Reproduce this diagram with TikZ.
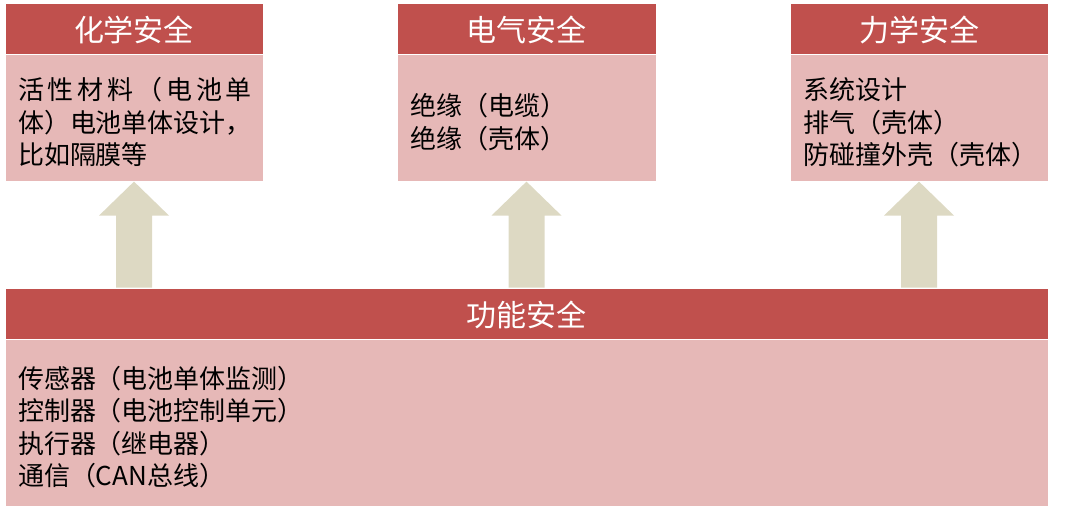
\documentclass[tikz,border=0pt]{standalone}
\usepackage{fontspec}
\setmainfont{Noto Sans CJK SC}
\usetikzlibrary{positioning,calc}
\definecolor{hdr}{HTML}{C0504D}
\definecolor{bdy}{HTML}{E6B8B7}
\definecolor{arw}{HTML}{DDD9C3}

\begin{document}
\begin{tikzpicture}[x=1pt, y=1pt,
    head/.style={fill=hdr, draw=white, line width=0.8pt, minimum height=51pt,
      inner sep=0pt, text=white, text height=30pt, text depth=4pt,
      font=\fontsize{30}{32}\selectfont},
    body/.style={fill=bdy, draw=white, line width=0.8pt, align=left,
      inner xsep=13pt, inner ysep=0pt, font=\fontsize{26}{32.5}\selectfont,
      execute at begin node=\rule{0pt}{30pt}},
    up/.style={fill=arw},
  ]
  \useasboundingbox (0,0) rectangle (1080,507);

  % top boxes
  \node[head, minimum width=258pt] (chemh) at (134,478.5) {化学安全};
  \node[body, below=0pt of chemh, minimum width=258pt, minimum height=127pt,
    text width=232pt] (chemb)
    {\makebox[9em][s]{活\hfill 性\hfill 材\hfill 料\hfill （\hfill 电\hfill 池\hfill 单}\\
     体）电池单体设计，\\ 比如隔膜等};

  \node[head, minimum width=259pt] (elech) at (526.5,478.5) {电气安全};
  \node[body, below=0pt of elech, minimum width=259pt, minimum height=127pt,
    text width=233pt] (elecb) {绝缘（电缆）\\ 绝缘（壳体）};

  \node[head, minimum width=258pt] (mechh) at (919,478.5) {力学安全};
  \node[body, below=0pt of mechh, minimum width=258pt, minimum height=127pt,
    text width=232pt] (mechb) {系统设计\\ 排气（壳体）\\ 防碰撞外壳（壳体）};

  % bottom box
  \node[head, minimum width=1043pt] (funch) at (526.5,193.5) {功能安全};
  \node[body, below=0pt of funch, minimum width=1043pt, minimum height=167pt,
    text width=1017pt] (funcb)
    {传感器（电池单体监测）\\ 控制器（电池控制单元）\\ 执行器（继电器）\\ 通信（CAN总线）};

  % block arrows
  \foreach \b in {chemb, elecb, mechb}
    \fill[up] (\b.south |- funch.north) ++(-18,0) -- ++(0,72) -- ++(-17,0)
      -- ++(35,34) -- ++(35,-34) -- ++(-17,0) -- ++(0,-72) -- cycle;
\end{tikzpicture}
\end{document}
